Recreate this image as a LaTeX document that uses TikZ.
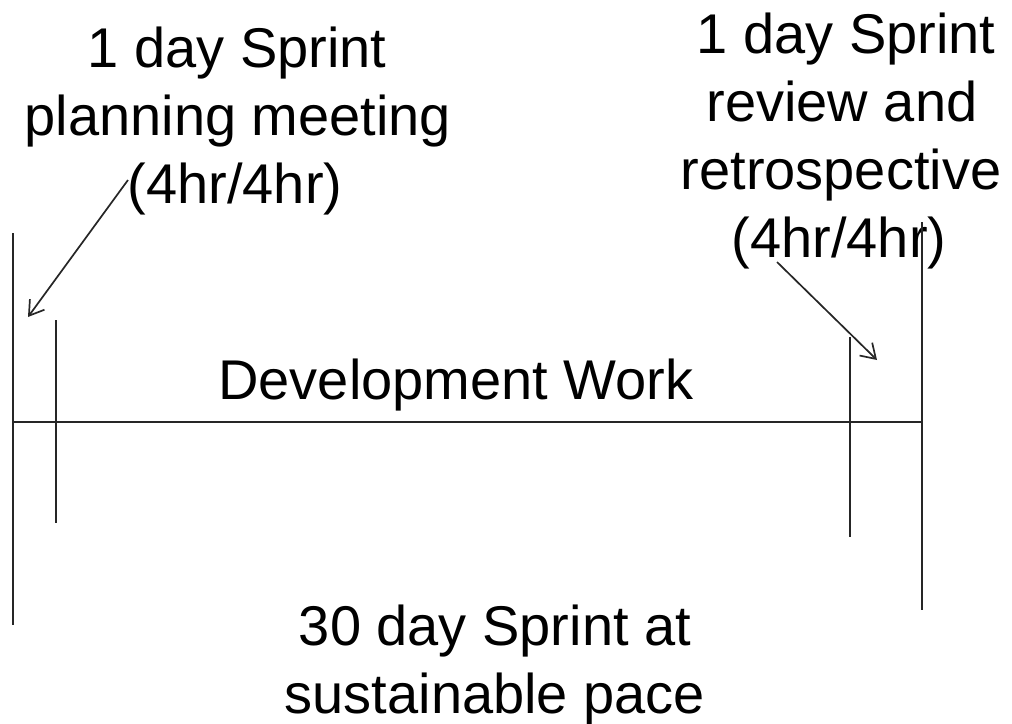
\documentclass[tikz,border=0pt]{standalone}
\usepackage{fontspec}
\setmainfont{Liberation Sans}
\usetikzlibrary{arrows.meta}
\begin{document}
\begin{tikzpicture}[x=1pt,y=-1pt,
  lbl/.style={font=\fontsize{56}{67}\selectfont, inner sep=0pt, anchor=base},
  rule/.style={draw=black!85, line width=2.2pt},
  pointer/.style={draw=black!85, line width=1.7pt, -{Straight Barb[length=14pt,width=18pt,line width=1.7pt]}}]
\useasboundingbox (0,0) rectangle (1012,723);
% labels
\node[lbl] (pl1) at (237,67) {1 day Sprint};
\node[lbl] (pl2) at (238,135) {planning meeting};
\node[lbl] (pl3) at (235,203) {(4hr/4hr)};
\node[lbl] (rv1) at (846,53) {1 day Sprint};
\node[lbl] (rv2) at (842,121) {review and};
\node[lbl] (rv3) at (841,189) {retrospective};
\node[lbl] (rv4) at (839,257) {(4hr/4hr)};
\node[lbl] (dev) at (456,399) {Development Work};
\node[lbl] (sp1) at (495,645) {30 day Sprint at};
\node[lbl] (sp2) at (495,713) {sustainable pace};
% timeline coordinates
\coordinate (a1) at (13,233);  \coordinate (a2) at (13,625);
\coordinate (b1) at (56,320);  \coordinate (b2) at (56,523);
\coordinate (h1) at (13,422);  \coordinate (h2) at (922,422);
\coordinate (c1) at (850,337); \coordinate (c2) at (850,537);
\coordinate (d1) at (922,222); \coordinate (d2) at (922,610);
\draw[rule] (a1) -- (a2);
\draw[rule] (b1) -- (b2);
\draw[rule] (h1) -- (h2);
\draw[rule] (c1) -- (c2);
\draw[rule] (d1) -- (d2);
% pointers
\coordinate (p1s) at (128,180); \coordinate (p1e) at (28,317);
\coordinate (p2s) at (777,262); \coordinate (p2e) at (877,360);
\draw[pointer] (p1s) -- (p1e);
\draw[pointer] (p2s) -- (p2e);
\end{tikzpicture}
\end{document}
